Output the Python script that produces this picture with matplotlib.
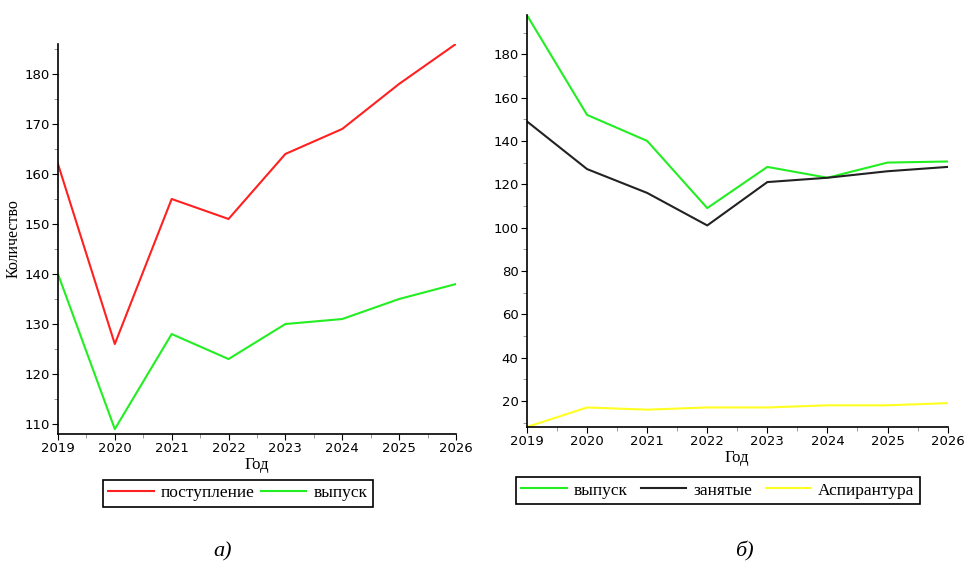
import numpy as np
import matplotlib
matplotlib.use('Agg')
import matplotlib.pyplot as plt
from matplotlib.ticker import MultipleLocator

# data
years = [2019, 2020, 2021, 2022, 2023, 2024, 2025, 2026]

# panel a
admission = [162, 126, 155, 151, 164, 169, 178, 186]
graduates_a = [140, 109, 128, 123, 130, 131, 135, 138]

# panel b
graduates_b = [198, 152, 140, 109, 128, 123, 130, 130.5]
employed = [149, 127, 116, 101, 121, 123, 126, 128]
postgrad = [8, 17, 16, 17, 17, 18, 18, 19]

serif = ['Liberation Serif', 'DejaVu Serif']
tick_font = 'DejaVu Sans'

fig = plt.figure(figsize=(9.66, 5.63), dpi=100)

def style_axes(ax, ymajor, yminor):
  for s in ['top', 'right']:
    ax.spines[s].set_visible(False)
  ax.spines['left'].set_linewidth(1.2)
  ax.spines['bottom'].set_linewidth(1.2)
  ax.set_xlim(years[0], years[-1])
  ax.xaxis.set_major_locator(MultipleLocator(1))
  ax.xaxis.set_minor_locator(MultipleLocator(0.5))
  ax.yaxis.set_major_locator(MultipleLocator(ymajor))
  ax.yaxis.set_minor_locator(MultipleLocator(yminor))
  ax.tick_params(which='major', direction='out', length=4, width=0.8, labelsize=9.5, pad=2)
  ax.tick_params(which='minor', direction='out', length=3, width=0.6, colors='#888888')
  for lab in ax.get_xticklabels() + ax.get_yticklabels():
    lab.set_family(tick_font)
  ax.set_xlabel('Год', family=serif, fontsize=12, labelpad=1)

def make_legend(ax, ncol, anchor, colsp):
  leg = ax.legend(loc='upper center', bbox_to_anchor=anchor, ncol=ncol,
                  prop={'family': serif, 'size': 12.5}, frameon=True, fancybox=False,
                  handlelength=2.6, handletextpad=0.4, columnspacing=colsp,
                  borderpad=0.32, borderaxespad=0, framealpha=1)
  leg.get_frame().set_edgecolor('black')
  leg.get_frame().set_linewidth(1.2)
  return leg

# a)
ax1 = fig.add_axes([0.060, 0.229, 0.412, 0.693])
ax1.plot(years, admission, color='#ff2020', lw=1.5, label='поступление')
ax1.plot(years, graduates_a, color='#22ee22', lw=1.5, label='выпуск')
ax1.set_ylim(108, 186)
style_axes(ax1, 10, 5)
ax1.set_ylabel('Количество', family=serif, fontsize=11.5, labelpad=2)
make_legend(ax1, 2, (0.452, -0.117), 0.4)

# b)
ax2 = fig.add_axes([0.5455, 0.2416, 0.4355, 0.7314])
ax2.plot(years, graduates_b, color='#22ee22', lw=1.5, label='выпуск')
ax2.plot(years, employed, color='#222222', lw=1.5, label='занятые')
ax2.plot(years, postgrad, color='#ffff22', lw=1.5, label='Аспирантура')
ax2.set_ylim(8, 198)
style_axes(ax2, 20, 10)
make_legend(ax2, 3, (0.454, -0.121), 0.8)

fig.text(0.230, 0.012, 'а)', family=serif, style='italic', fontsize=16, ha='center')
fig.text(0.771, 0.012, 'б)', family=serif, style='italic', fontsize=16, ha='center')

fig.savefig('out.png', dpi=100, facecolor='white')
